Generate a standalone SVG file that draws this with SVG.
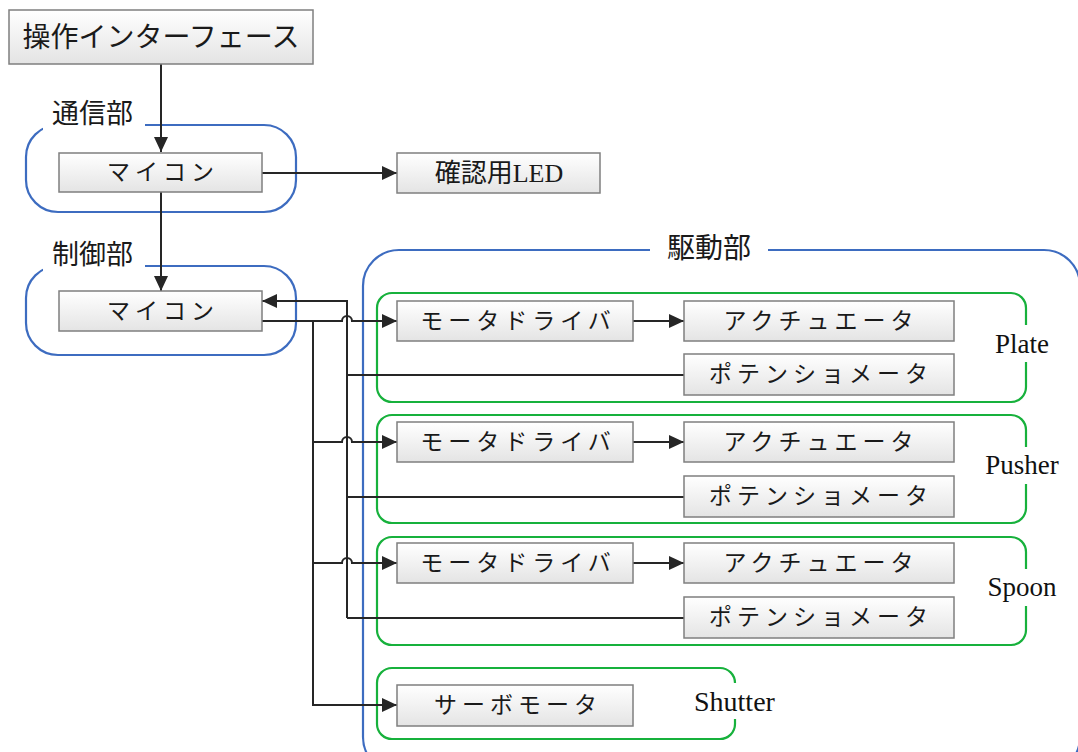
<svg xmlns="http://www.w3.org/2000/svg" width="1078" height="752" viewBox="0 0 1078 752">
<style>
.box{fill:url(#g);stroke:#7f7f7f;stroke-width:1.5}
.bt{font-family:"Liberation Serif","Noto Sans CJK JP",serif;font-size:23px;fill:#1a1a1a;text-anchor:middle;dominant-baseline:central;letter-spacing:5px}
.lbl{font-family:"Liberation Serif","Noto Sans CJK JP",serif;font-size:27px;fill:#1a1a1a}
.en{font-family:"Liberation Serif",serif;font-size:27px;fill:#111}
.blue{fill:none;stroke:#3d6cc0;stroke-width:2.2}
.green{fill:none;stroke:#17b13c;stroke-width:2.2}
.gap{fill:#fff}
.c{fill:none;stroke:#262626;stroke-width:2}
.a{marker-end:url(#ar)}
</style>
<defs>
<linearGradient id="g" x1="0" y1="0" x2="0" y2="1"><stop offset="0" stop-color="#ffffff"/><stop offset="1" stop-color="#e4e4e4"/></linearGradient>
<marker id="ar" markerUnits="userSpaceOnUse" markerWidth="16" markerHeight="14" refX="15" refY="7" orient="auto"><path d="M0,0 L15,7 L0,14 z" fill="#262626"/></marker>
</defs>
<rect width="1078" height="752" fill="#fff"/>

<g id="group-tsushin">
<rect class="blue" x="26" y="125" width="270" height="87" rx="32"/>
<rect class="gap" x="43" y="108" width="102" height="22"/>
<text class="lbl" x="52" y="123">通信部</text>
</g>
<g id="group-seigyo">
<rect class="blue" x="26" y="266" width="270" height="89" rx="32"/>
<rect class="gap" x="43" y="249" width="102" height="22"/>
<text class="lbl" x="52" y="264">制御部</text>
</g>
<g id="group-kudo">
<rect class="blue" x="363" y="250" width="717" height="523" rx="36"/>
<rect class="gap" x="650" y="234" width="118" height="22"/>
<text class="lbl" x="667" y="258" style="font-size:28px">駆動部</text>
</g>
<g id="group-plate">
<rect class="green" x="377" y="293" width="649" height="109" rx="15"/>
<rect class="gap" x="1016" y="325" width="20" height="37"/>
<text class="en" x="1022" y="353" text-anchor="middle">Plate</text>
</g>
<g id="group-pusher">
<rect class="green" x="377" y="415" width="649" height="108" rx="15"/>
<rect class="gap" x="1016" y="447" width="20" height="37"/>
<text class="en" x="1022" y="474" text-anchor="middle">Pusher</text>
</g>
<g id="group-spoon">
<rect class="green" x="377" y="537" width="649" height="108" rx="15"/>
<rect class="gap" x="1016" y="569" width="20" height="37"/>
<text class="en" x="1022" y="596" text-anchor="middle">Spoon</text>
</g>
<g id="group-shutter">
<rect class="green" x="377" y="668" width="358" height="71" rx="15"/>
<rect class="gap" x="725" y="683" width="20" height="36"/>
<text class="en" x="694" y="711" style="font-size:28px">Shutter</text>
</g>

<g id="connectors">
<path class="c a" d="M161,64 V152"/>
<path class="c a" d="M262,173 H397"/>
<path class="c a" d="M161,192 V291"/>
<path class="c" d="M684,375 H347"/>
<path class="c" d="M684,497 H347"/>
<path class="c" d="M684,618 H347"/>
<path class="c a" d="M347,618 V301 H262"/>
<path class="c a" d="M262,321 H342 A5,5 0 0 1 352,321 H397"/>
<path class="c a" d="M313,321 V705 H397"/>
<path class="c a" d="M313,442 H342 A5,5 0 0 1 352,442 H397"/>
<path class="c a" d="M313,563 H342 A5,5 0 0 1 352,563 H397"/>
<path class="c a" d="M633,321 H684"/>
<path class="c a" d="M633,442 H684"/>
<path class="c a" d="M633,563 H684"/>
</g>

<g id="n-ui"><rect class="box" x="9" y="10" width="304" height="54"/><text class="bt" x="161" y="37" style="font-size:28px;letter-spacing:0px">操作インターフェース</text></g>
<g id="n-mc1"><rect class="box" x="59" y="153" width="203" height="39"/><text class="bt" x="163" y="172">マイコン</text></g>
<g id="n-led"><rect class="box" x="397" y="153" width="203" height="40"/><text class="bt" x="499" y="173" style="font-size:26px;letter-spacing:0px">確認用LED</text></g>
<g id="n-mc2"><rect class="box" x="59" y="291" width="203" height="40"/><text class="bt" x="163" y="311">マイコン</text></g>

<g id="n-md1"><rect class="box" x="397" y="301" width="236" height="40"/><text class="bt" x="518" y="321">モータドライバ</text></g>
<g id="n-ac1"><rect class="box" x="684" y="301" width="270" height="40"/><text class="bt" x="821" y="321">アクチュエータ</text></g>
<g id="n-po1"><rect class="box" x="684" y="354" width="270" height="41"/><text class="bt" x="821" y="374">ポテンショメータ</text></g>

<g id="n-md2"><rect class="box" x="397" y="422" width="236" height="40"/><text class="bt" x="518" y="442">モータドライバ</text></g>
<g id="n-ac2"><rect class="box" x="684" y="422" width="270" height="40"/><text class="bt" x="821" y="442">アクチュエータ</text></g>
<g id="n-po2"><rect class="box" x="684" y="476" width="270" height="41"/><text class="bt" x="821" y="496">ポテンショメータ</text></g>

<g id="n-md3"><rect class="box" x="397" y="543" width="236" height="40"/><text class="bt" x="518" y="563">モータドライバ</text></g>
<g id="n-ac3"><rect class="box" x="684" y="543" width="270" height="40"/><text class="bt" x="821" y="563">アクチュエータ</text></g>
<g id="n-po3"><rect class="box" x="684" y="597" width="270" height="41"/><text class="bt" x="821" y="617">ポテンショメータ</text></g>

<g id="n-servo"><rect class="box" x="397" y="685" width="236" height="41"/><text class="bt" x="518" y="705">サーボモータ</text></g>
</svg>
